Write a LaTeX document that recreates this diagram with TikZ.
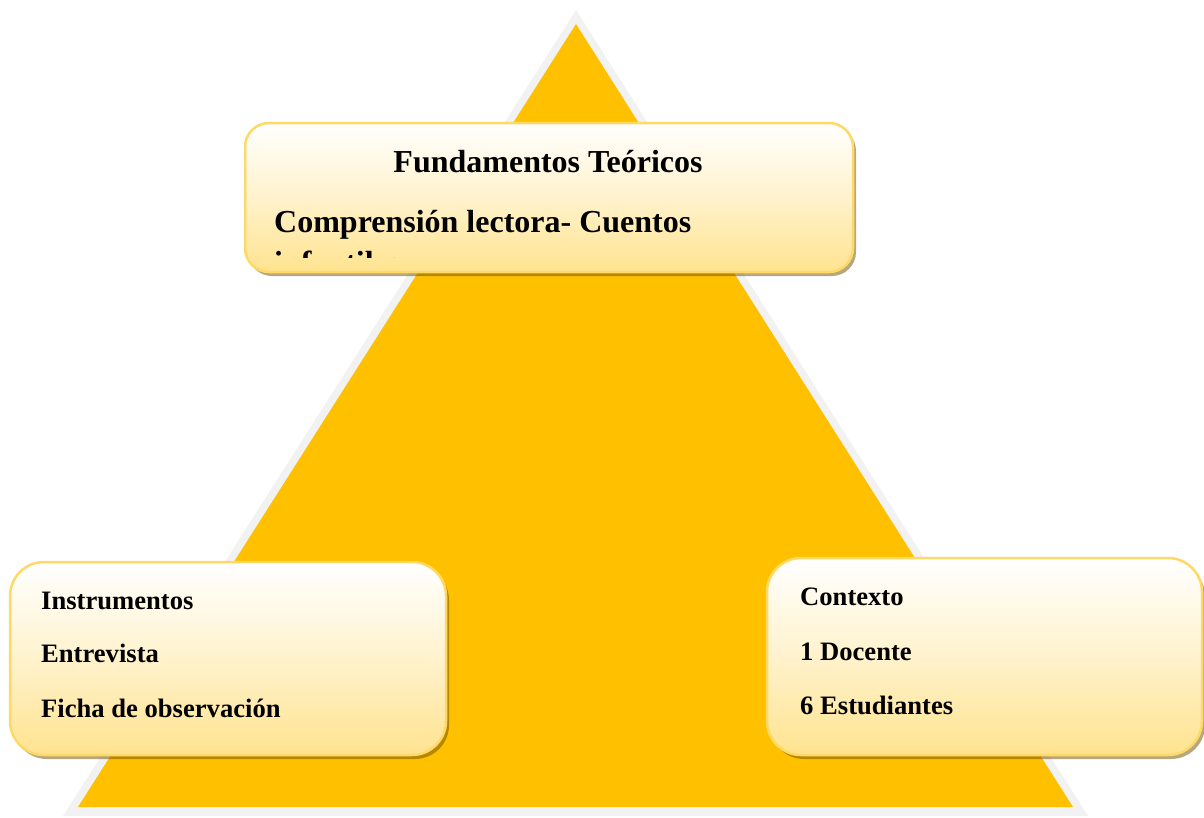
\documentclass[tikz,border=0pt]{standalone}
\usepackage{fontspec}
\setmainfont{Liberation Serif}
\usetikzlibrary{shadows}
\definecolor{trigold}{HTML}{FFC000}
\definecolor{triedge}{HTML}{F2F2F2}
\definecolor{boxedge}{HTML}{FFD966}
\definecolor{boxbottom}{HTML}{FFE38F}
\definecolor{shadowcol}{HTML}{6E5000}
\tikzset{
  infobox/.style={draw=boxedge, line width=2.5pt, rounded corners=#1,
    top color=white, bottom color=boxbottom, middle color=white!55!boxbottom,
    drop shadow={shadow xshift=3pt, shadow yshift=-4pt, fill=shadowcol, opacity=0.5},
    inner sep=0pt},
  bigtxt/.style={font=\bfseries\fontsize{32}{38}\selectfont, inner sep=0pt},
  smalltxt/.style={font=\bfseries\fontsize{26.6}{32}\selectfont, inner sep=0pt, anchor=base west},
}
\begin{document}
\begin{tikzpicture}[x=1pt,y=-1pt]
\useasboundingbox (0,0) rectangle (1204,817);
% triangle
\coordinate (oa) at (576,10);
\coordinate (ol) at (63,816);
\coordinate (or) at (1088,816);
\coordinate (ia) at (576,24);
\coordinate (il) at (78,807);
\coordinate (ir) at (1073,807);
\fill[triedge] (oa) -- (ol) -- (or) -- cycle;
\fill[trigold] (ia) -- (il) -- (ir) -- cycle;
% top box
\node[infobox=24pt, minimum width=608pt, minimum height=149pt] (top) at (549,197.5) {};
\node[bigtxt, anchor=base] (t1) at (548,172) {Fundamentos Teóricos};
\node[bigtxt, anchor=base west] (t2) at (274,232) {Comprensión lectora- Cuentos};
\begin{scope}
\clip (250,240) rectangle (850,257);
\node[bigtxt, anchor=base west] (t3) at (274,273) {infantiles};
\end{scope}
% left box
\node[infobox=34pt, minimum width=436pt, minimum height=193pt] (left) at (228,658.5) {};
\node[smalltxt] (l1) at (41,609) {Instrumentos};
\node[smalltxt] (l2) at (41,662) {Entrevista};
\node[smalltxt] (l3) at (41,717) {Ficha de observación};
% right box
\node[infobox=34pt, minimum width=435pt, minimum height=197pt] (right) at (984.5,656.5) {};
\node[smalltxt] (r1) at (800,605) {Contexto};
\node[smalltxt] (r2) at (800,660) {1 Docente};
\node[smalltxt] (r3) at (800,714) {6 Estudiantes};
\end{tikzpicture}
\end{document}
